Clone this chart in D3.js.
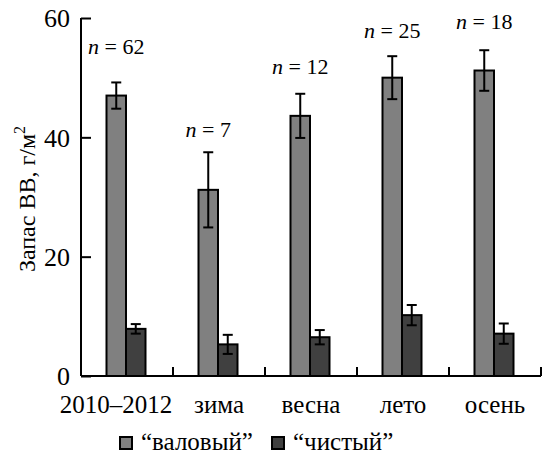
<!DOCTYPE html>
<html>
<head>
  <meta charset="utf-8">
  <script src="https://d3js.org/d3.v7.min.js"></script>
  <style>
    body { margin: 0; background: #fff; }
  </style>
</head>
<body>
<script>
  // categories and series
  var categories = ["2010\u20132012", "зима", "весна", "лето", "осень"];
  var series = ["“валовый”", "“чистый”"];
  var colors = ["#808080", "#404040"];

  // mean values and error (+/-)
  var grossValues = [47.0, 31.2, 43.6, 50.0, 51.2];
  var grossErrors = [2.2, 6.3, 3.7, 3.6, 3.4];
  var netValues = [7.9, 5.3, 6.5, 10.2, 7.1];
  var netErrors = [0.8, 1.6, 1.2, 1.7, 1.7];

  // sample sizes, and the level (in g/m2) where each label sits
  var nLabels = [62, 7, 12, 25, 18];
  var nLabelLevel = [54.0, 40.1, 50.6, 56.6, 58.2];

  var yTicks = [0, 20, 40, 60];

  var width = 544, height = 456;
  var margin = {left: 81, right: 3, top: 18, bottom: 80};
  var serif = "'Liberation Serif'";

  var svg = d3.select("body").append("svg")
    .attr("width", width)
    .attr("height", height);

  var y = d3.scaleLinear().domain([0, 60]).range([height - margin.bottom, margin.top]);
  var x0 = d3.scaleBand().domain(categories).range([margin.left, width - margin.right]);
  var barW = 19.5;

  // x position of each bar (left edge)
  function barX(i, s) {
    var c = x0(categories[i]) + x0.bandwidth() / 2 - 1;
    return s == 0 ? c - barW : c;
  }

  var data = [];
  categories.forEach(function(c, i) {
    data.push({i: i, s: 0, v: grossValues[i], e: grossErrors[i]});
    data.push({i: i, s: 1, v: netValues[i], e: netErrors[i]});
  });

  /* bars */
  svg.append("g").selectAll("rect")
    .data(data)
    .enter()
    .append("rect")
    .attr("x", d => barX(d.i, d.s))
    .attr("y", d => y(d.v))
    .attr("width", barW)
    .attr("height", d => y(0) - y(d.v))
    .style("fill", d => colors[d.s])
    .style("stroke", "#000")
    .style("stroke-width", 2);

  /* error bars */
  var err = svg.append("g").selectAll("g")
    .data(data)
    .enter()
    .append("g")
    .style("stroke", "#000")
    .style("stroke-width", 2);
  err.append("line")
    .attr("x1", d => barX(d.i, d.s) + barW / 2)
    .attr("x2", d => barX(d.i, d.s) + barW / 2)
    .attr("y1", d => y(d.v + d.e))
    .attr("y2", d => y(d.v - d.e));
  [1, -1].forEach(function(k) {
    err.append("line")
      .attr("x1", d => barX(d.i, d.s) + barW / 2 - 5)
      .attr("x2", d => barX(d.i, d.s) + barW / 2 + 5)
      .attr("y1", d => y(d.v + k * d.e))
      .attr("y2", d => y(d.v + k * d.e));
  });

  /* n = labels */
  var nText = svg.append("g").selectAll("text")
    .data(nLabels)
    .enter()
    .append("text")
    .attr("x", (d, i) => barX(i, 0) + barW / 2)
    .attr("y", (d, i) => y(nLabelLevel[i]))
    .attr("text-anchor", "middle")
    .style("font-family", serif)
    .style("font-size", "22px")
    .style("fill", "#000");
  nText.append("tspan").style("font-style", "italic").text("n");
  nText.append("tspan").text(d => " = " + d);

  /* y axis */
  var yAxis = svg.append("g")
    .attr("transform", "translate(" + margin.left + ",0)")
    .call(d3.axisRight(y).tickValues(yTicks).tickSize(10).tickFormat(d3.format("d")));
  yAxis.select(".domain").attr("d", "M0," + y(60) + "V" + y(0));
  yAxis.selectAll("line, path").style("stroke", "#000").style("stroke-width", 2);
  yAxis.selectAll("text")
    .attr("x", -11)
    .attr("dy", "0.34em")
    .attr("text-anchor", "end")
    .style("font-family", serif)
    .style("font-size", "26px")
    .style("fill", "#000");

  /* x axis: baseline with upward ticks at band edges */
  var xAxis = svg.append("g");
  xAxis.append("line")
    .attr("x1", margin.left).attr("x2", width - margin.right)
    .attr("y1", y(0)).attr("y2", y(0))
    .style("stroke", "#000").style("stroke-width", 2);
  xAxis.selectAll(".tick")
    .data(categories)
    .enter()
    .append("line")
    .attr("x1", d => x0(d) + x0.bandwidth())
    .attr("x2", d => x0(d) + x0.bandwidth())
    .attr("y1", y(0))
    .attr("y2", y(0) - 9)
    .style("stroke", "#000").style("stroke-width", 2);
  xAxis.selectAll("text")
    .data(categories)
    .enter()
    .append("text")
    .attr("x", (d, i) => x0(d) + x0.bandwidth() / 2 - (i == 0 ? 11 : 0))
    .attr("y", y(0) + 37)
    .attr("text-anchor", "middle")
    .style("font-family", serif)
    .style("font-size", "25px")
    .style("fill", "#000")
    .text(d => d);

  /* y axis title */
  var yt = svg.append("text")
    .attr("transform", "translate(35,199) rotate(-90)")
    .attr("text-anchor", "middle")
    .style("font-family", serif)
    .style("font-size", "24px")
    .style("fill", "#000");
  yt.append("tspan").text("Запас ВВ, г/м");
  yt.append("tspan").attr("dy", -10).style("font-size", "16px").text("2");

  /* legend */
  var legendX = [120, 272];
  var lg = svg.append("g").selectAll("g")
    .data(series)
    .enter()
    .append("g")
    .attr("transform", (d, i) => "translate(" + legendX[i] + ",437)");
  lg.append("rect")
    .attr("width", 12).attr("height", 12)
    .style("fill", (d, i) => colors[i])
    .style("stroke", "#000").style("stroke-width", 2);
  lg.append("text")
    .attr("x", 21)
    .attr("y", 13)
    .style("font-family", serif)
    .style("font-size", "25px")
    .style("fill", "#000")
    .text(d => d);
</script>
</body>
</html>
